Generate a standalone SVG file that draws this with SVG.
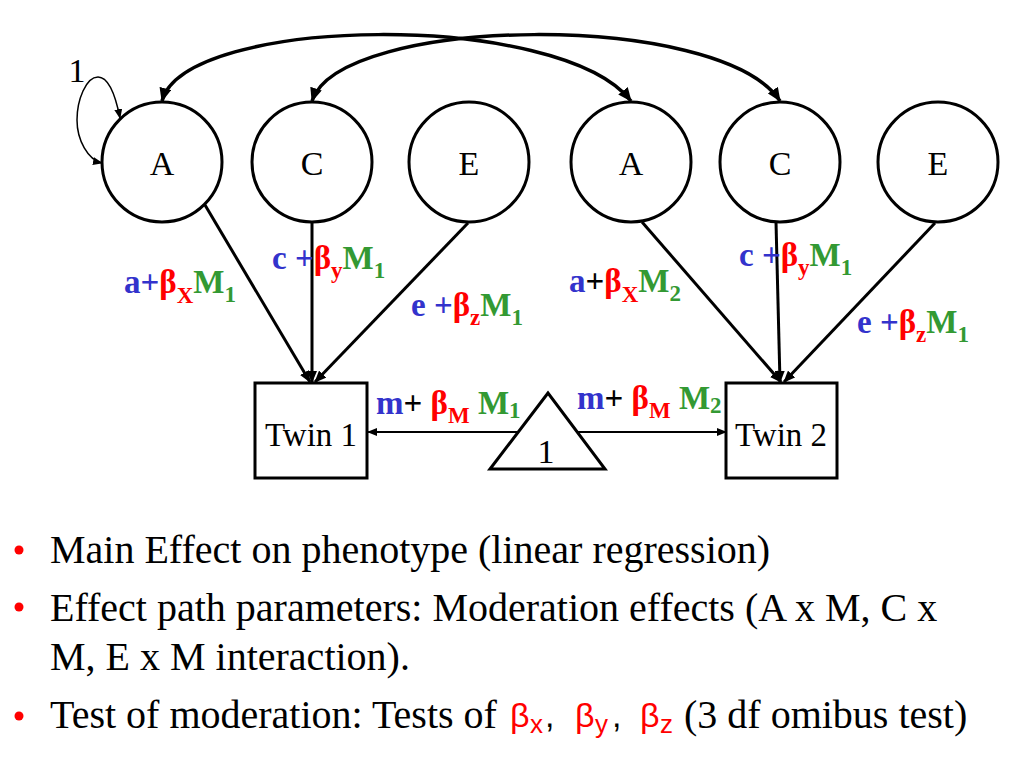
<svg xmlns="http://www.w3.org/2000/svg" width="1024" height="768" viewBox="0 0 1024 768">
<style>
.node circle,.node rect,.node polygon{fill:#fff;stroke:#000;stroke-width:3}
.nl{font-family:"Liberation Serif","Times New Roman",serif;font-size:34px;fill:#000;text-anchor:middle}
.conn{fill:none;stroke:#000}
.thick{stroke-width:3}
.curve{stroke-width:3.5}
.thin{stroke-width:1.5}
.lbl{font-family:"Liberation Serif","Times New Roman",serif;font-size:33px;font-weight:bold}
.b{fill:#3333CC}.r{fill:#FF0000}.g{fill:#339933}.k{fill:#000}
.s{font-size:23px}
.bul{font-family:"Liberation Serif","Times New Roman",serif;font-size:40px;fill:#000}
.sans{font-family:"Liberation Sans",Arial,sans-serif}
</style>
<defs>
<marker id="ah" viewBox="0 0 12 10" refX="11" refY="5" markerWidth="12" markerHeight="10" markerUnits="userSpaceOnUse" orient="auto-start-reverse"><path d="M0,0 L12,5 L0,10 z" fill="#000"/></marker>
<marker id="ahc" viewBox="0 0 14 12" refX="13" refY="6" markerWidth="14" markerHeight="12" markerUnits="userSpaceOnUse" orient="auto-start-reverse"><path d="M0,0 L14,6 L0,12 z" fill="#000"/></marker>
<marker id="ahs" viewBox="0 0 10 8" refX="9" refY="4" markerWidth="10" markerHeight="8" markerUnits="userSpaceOnUse" orient="auto-start-reverse"><path d="M0,0 L10,4 L0,8 z" fill="#000"/></marker>
</defs>
<rect width="1024" height="768" fill="#fff"/>

<g id="connectors">
<path class="conn curve" d="M162,101 C185,15 560,10 631,101" marker-start="url(#ahc)" marker-end="url(#ahc)"/>
<path class="conn curve" d="M312,101 C340,15 720,10 780,101" marker-start="url(#ahc)" marker-end="url(#ahc)"/>
<path class="conn thin" d="M120,118 C114,88 106,77 98,77 C86,77 77,100 77,120 C77,140 88,160 102,163" marker-start="url(#ahs)" marker-end="url(#ahs)"/>
<line class="conn thick" x1="205" y1="205" x2="310" y2="382" marker-end="url(#ah)"/>
<line class="conn thick" x1="312" y1="222" x2="312" y2="382" marker-end="url(#ah)"/>
<line class="conn thick" x1="468" y1="223" x2="315" y2="382" marker-end="url(#ah)"/>
<line class="conn thick" x1="642" y1="222" x2="781" y2="382" marker-end="url(#ah)"/>
<line class="conn thick" x1="776" y1="222" x2="780" y2="382" marker-end="url(#ah)"/>
<line class="conn thick" x1="935" y1="223" x2="784" y2="382" marker-end="url(#ah)"/>
<line class="conn" stroke-width="2" x1="518" y1="432" x2="368" y2="432" marker-end="url(#ahs)"/>
<line class="conn" stroke-width="2" x1="577" y1="432" x2="726" y2="432" marker-end="url(#ahs)"/>
</g>

<text x="77" y="82" class="nl">1</text>

<g id="A1" class="node"><circle cx="162" cy="162" r="60"/><text x="162" y="175" class="nl">A</text></g>
<g id="C1" class="node"><circle cx="312" cy="162" r="60"/><text x="312" y="175" class="nl">C</text></g>
<g id="E1" class="node"><circle cx="469" cy="162" r="60"/><text x="469" y="175" class="nl">E</text></g>
<g id="A2" class="node"><circle cx="631" cy="162" r="60"/><text x="631" y="175" class="nl">A</text></g>
<g id="C2" class="node"><circle cx="780" cy="162" r="60"/><text x="780" y="175" class="nl">C</text></g>
<g id="E2" class="node"><circle cx="938" cy="162" r="60"/><text x="938" y="175" class="nl">E</text></g>
<g id="Twin1" class="node"><rect x="255" y="383" width="112" height="95"/><text x="311" y="446" class="nl" font-size="37" textLength="92" lengthAdjust="spacingAndGlyphs">Twin 1</text></g>
<g id="Twin2" class="node"><rect x="726" y="383" width="111" height="95"/><text x="781" y="446" class="nl" font-size="37" textLength="92" lengthAdjust="spacingAndGlyphs">Twin 2</text></g>
<g id="Mean" class="node"><polygon points="548,393 490,469 605,469"/><text x="546" y="463" class="nl">1</text></g>

<g id="labels">
<text x="124" y="293" class="lbl"><tspan class="b">a+</tspan><tspan class="r">β</tspan><tspan class="r s" dy="10">X</tspan><tspan class="g" dy="-10">M</tspan><tspan class="g s" dy="9">1</tspan></text>
<text x="272" y="269" class="lbl"><tspan class="b">c +</tspan><tspan class="r">β</tspan><tspan class="r s" dy="9">y</tspan><tspan class="g" dy="-9">M</tspan><tspan class="g s" dy="9">1</tspan></text>
<text x="411" y="316" class="lbl"><tspan class="b">e +</tspan><tspan class="r">β</tspan><tspan class="r s" dy="9">z</tspan><tspan class="g" dy="-9">M</tspan><tspan class="g s" dy="9">1</tspan></text>
<text x="569" y="292" class="lbl"><tspan class="b">a</tspan><tspan class="k">+</tspan><tspan class="r">β</tspan><tspan class="r s" dy="10">X</tspan><tspan class="g" dy="-10">M</tspan><tspan class="g s" dy="9">2</tspan></text>
<text x="739" y="266" class="lbl"><tspan class="b">c +</tspan><tspan class="r">β</tspan><tspan class="r s" dy="9">y</tspan><tspan class="g" dy="-9">M</tspan><tspan class="g s" dy="9">1</tspan></text>
<text x="857" y="333" class="lbl"><tspan class="b">e +</tspan><tspan class="r">β</tspan><tspan class="r s" dy="9">z</tspan><tspan class="g" dy="-9">M</tspan><tspan class="g s" dy="9">1</tspan></text>
<text x="376" y="414" class="lbl"><tspan class="b">m</tspan><tspan class="k">+ </tspan><tspan class="r">β</tspan><tspan class="r s" dy="9">M</tspan><tspan class="g" dy="-9"> M</tspan><tspan class="g s" dy="4">1</tspan></text>
<text x="577" y="409" class="lbl"><tspan class="b">m</tspan><tspan class="k">+ </tspan><tspan class="r">β</tspan><tspan class="r s" dy="9">M</tspan><tspan class="g" dy="-9"> M</tspan><tspan class="g s" dy="4">2</tspan></text>
</g>

<g id="bullets">
<circle cx="19" cy="550" r="4.5" fill="#FF0000"/>
<circle cx="19" cy="607" r="4.5" fill="#FF0000"/>
<circle cx="19" cy="716" r="4.5" fill="#FF0000"/>
<text x="50" y="563" class="bul">Main Effect on phenotype (linear regression)</text>
<text x="50" y="621" class="bul">Effect path parameters: Moderation effects (A x M, C x</text>
<text x="50" y="670" class="bul">M, E x M interaction).</text>
<text x="50" y="728" class="bul">Test of moderation: Tests of</text>
<text y="727" class="sans" font-size="34"><tspan x="510" fill="#FF0000">β</tspan><tspan x="530" y="733" fill="#FF0000" font-size="26">x</tspan><tspan x="545" y="727" fill="#000">,</tspan><tspan x="575" fill="#FF0000">β</tspan><tspan x="595" y="733" fill="#FF0000" font-size="26">y</tspan><tspan x="612" y="727" fill="#000">,</tspan><tspan x="640" fill="#FF0000">β</tspan><tspan x="660" y="733" fill="#FF0000" font-size="26">z</tspan></text>
<text x="684" y="728" class="bul">(3 df omibus test)</text>
</g>
</svg>
